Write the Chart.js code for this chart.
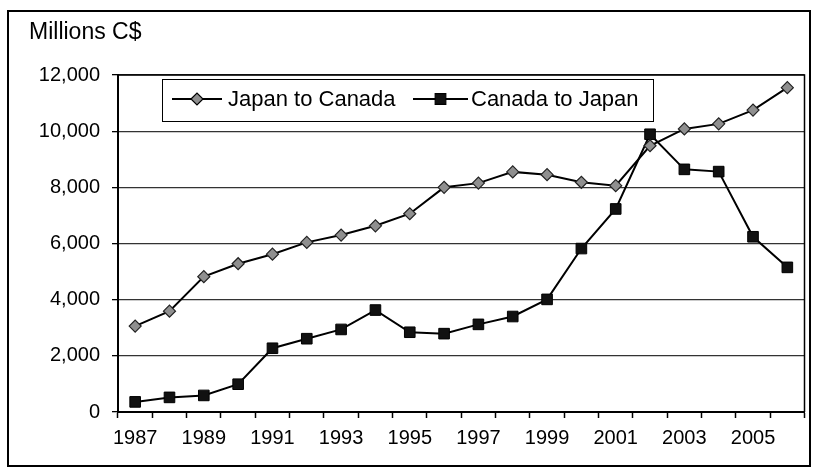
<!DOCTYPE html>
<html>
<head>
<meta charset="utf-8">
<script src="https://cdn.jsdelivr.net/npm/chart.js@4/dist/chart.umd.min.js"></script>
<style>
  html, body { margin: 0; padding: 0; background: #fff; }
  #wrap { position: relative; width: 813px; height: 468px; }
</style>
</head>
<body>
<div id="wrap"><canvas id="chart" width="813" height="468"></canvas></div>
<script>
// Japan / Canada bilateral trade, millions C$, 1987-2006

const years = ["1987", "1988", "1989", "1990", "1991", "1992", "1993", "1994", "1995", "1996",
               "1997", "1998", "1999", "2000", "2001", "2002", "2003", "2004", "2005", "2006"];

const japanToCanada = [3060, 3590, 4820, 5280, 5620, 6040, 6300, 6630, 7060, 8000,
                       8150, 8550, 8450, 8180, 8060, 9480, 10080, 10260, 10750, 11550];

const canadaToJapan = [360, 520, 590, 990, 2270, 2610, 2940, 3630, 2840, 2790,
                       3120, 3400, 4010, 5820, 7230, 9890, 8640, 8560, 6240, 5150];

const seriesNames = ["Japan to Canada", "Canada to Japan"];

const yTicks = [0, 2000, 4000, 6000, 8000, 10000, 12000];

const FONT = "'Liberation Sans', Arial, sans-serif";

// ─── Frame, axis caption and in-plot legend ─────────────────────────────────

const decor = {
  id: "decor",
  afterDraw(chart) {
    const { ctx, chartArea: a } = chart;
    ctx.save();

    // outer frame
    ctx.strokeStyle = "#000";
    ctx.lineWidth = 2;
    ctx.strokeRect(8, 11, 802, 455);

    // plot frame (top + right)
    ctx.lineWidth = 1.5;
    ctx.beginPath();
    ctx.moveTo(a.left, a.top);
    ctx.lineTo(a.right, a.top);
    ctx.lineTo(a.right, a.bottom);
    ctx.stroke();

    // axis caption
    ctx.fillStyle = "#000";
    ctx.font = "23px " + FONT;
    ctx.textBaseline = "middle";
    ctx.textAlign = "left";
    ctx.fillText("Millions C$", 29, 33);

    // legend
    const ly = 99;
    ctx.fillStyle = "#fff";
    ctx.fillRect(162, 79, 491, 42);
    ctx.strokeStyle = "#000";
    ctx.lineWidth = 1;
    ctx.strokeRect(162.5, 79.5, 491, 42);

    const items = [
      { x0: 172, x1: 222, text: 228, style: "rectRot", r: 6, fill: "#8f8f8f" },
      { x0: 413, x1: 468, text: 471, style: "rect", r: 7.5, fill: "#111" },
    ];
    items.forEach((it, i) => {
      ctx.strokeStyle = "#000";
      ctx.lineWidth = 2;
      ctx.beginPath();
      ctx.moveTo(it.x0, ly);
      ctx.lineTo(it.x1, ly);
      ctx.stroke();
      ctx.fillStyle = it.fill;
      ctx.lineWidth = 1.2;
      Chart.helpers.drawPoint(ctx, { pointStyle: it.style, radius: it.r, borderWidth: 1.2 },
        (it.x0 + it.x1) / 2, ly);
      ctx.fillStyle = "#000";
      ctx.font = "22px " + FONT;
      ctx.textAlign = "left";
      ctx.textBaseline = "middle";
      ctx.fillText(seriesNames[i], it.text, ly + 1);
    });

    ctx.restore();
  },
};

new Chart(document.getElementById("chart"), {
  type: "line",
  data: {
    labels: years,
    datasets: [
      {
        label: seriesNames[0],
        data: japanToCanada,
        borderColor: "#000",
        borderWidth: 2,
        pointStyle: "rectRot",
        pointRadius: 6,
        pointBackgroundColor: "#8f8f8f",
        pointBorderColor: "#222",
        pointBorderWidth: 1.2,
        tension: 0,
      },
      {
        label: seriesNames[1],
        data: canadaToJapan,
        borderColor: "#000",
        borderWidth: 2,
        pointStyle: "rect",
        pointRadius: 7.5,
        pointBackgroundColor: "#111",
        pointBorderColor: "#000",
        pointBorderWidth: 1,
        tension: 0,
      },
    ],
  },
  options: {
    responsive: false,
    animation: false,
    layout: { padding: { left: 0, top: 75, right: 8, bottom: 0 } },
    plugins: {
      legend: { display: false },
      tooltip: { enabled: false },
    },
    scales: {
      x: {
        type: "category",
        offset: true,
        afterFit: (s) => { s.height = 56; },
        grid: {
          offset: true,
          drawOnChartArea: false,
          drawTicks: true,
          tickLength: 6,
          tickColor: "#000",
          tickWidth: 1.5,
        },
        border: { display: true, color: "#000", width: 2 },
        ticks: {
          autoSkip: false,
          maxRotation: 0,
          padding: 8,
          color: "#000",
          font: { family: FONT, size: 20 },
          callback: (v, i) => (i % 2 === 0 ? years[i] : ""),
        },
      },
      y: {
        min: yTicks[0],
        max: yTicks[yTicks.length - 1],
        afterFit: (s) => { s.width = 118; },
        afterBuildTicks: (s) => { s.ticks = yTicks.map((v) => ({ value: v })); },
        grid: {
          color: "#333",
          lineWidth: 1.3,
          drawTicks: true,
          tickLength: 6,
          tickColor: "#000",
        },
        border: { display: true, color: "#000", width: 2 },
        ticks: {
          padding: 12,
          color: "#000",
          font: { family: FONT, size: 20 },
          callback: (v) => v.toLocaleString("en-US"),
        },
      },
    },
  },
  plugins: [decor],
});
</script>
</body>
</html>
